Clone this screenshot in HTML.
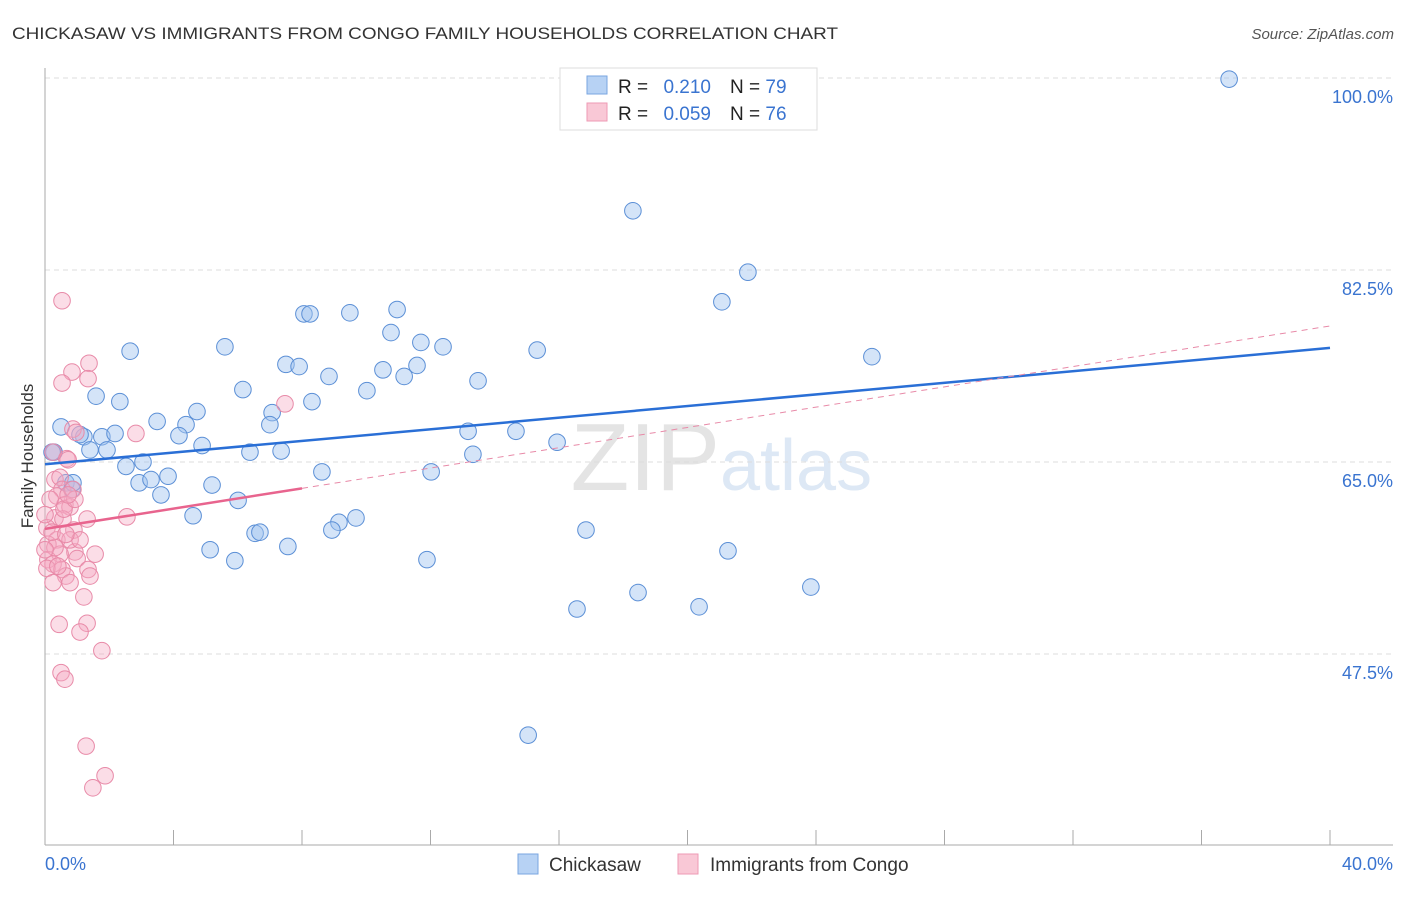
<!DOCTYPE html>
<html><head><meta charset="utf-8"><style>
body{margin:0;background:#fff;font-family:"Liberation Sans",sans-serif;}
svg text{font-family:"Liberation Sans",sans-serif;}
</style></head><body>
<svg width="1406" height="892" xmlns="http://www.w3.org/2000/svg" id="chart">
<text x="12" y="39" font-size="17" fill="#333" textLength="826" lengthAdjust="spacingAndGlyphs">CHICKASAW VS IMMIGRANTS FROM CONGO FAMILY HOUSEHOLDS CORRELATION CHART</text>
<text x="1394" y="39" font-size="15" fill="#555" font-style="italic" text-anchor="end">Source: ZipAtlas.com</text>
<text x="720" y="490" font-size="96" fill="#e4e4e4" text-anchor="end" font-family="Liberation Serif">ZIP</text>
<text x="720" y="490" font-size="72" fill="#dde8f5">atlas</text>
<g id="grid"></g>
<line x1="45" y1="68" x2="45" y2="845" stroke="#aaa"/>
<line x1="45" y1="845" x2="1393" y2="845" stroke="#aaa"/>
<g id="ticks"></g>
<text x="33" y="456" font-size="17" fill="#333" text-anchor="middle" transform="rotate(-90 33 456)">Family Households</text>
<text x="45" y="870" font-size="18" fill="#3a74d0">0.0%</text>
<text x="1393" y="870" font-size="18" fill="#3a74d0" text-anchor="end">40.0%</text>
<g id="points"></g>
<g id="lines"></g>
<g>
<rect x="560" y="68" width="257" height="62" fill="#fff" stroke="#ddd"/>
<rect x="587" y="76" width="20" height="18" fill="#b7d2f4" stroke="#7aa6e0"/>
<rect x="587" y="103" width="20" height="18" fill="#f9c8d6" stroke="#ee9ab4"/>
<text x="618" y="93" font-size="19" fill="#222">R =</text>
<text x="711" y="93" font-size="19" fill="#3a74d0" text-anchor="end">0.210</text>
<text x="730" y="93" font-size="19" fill="#222">N = <tspan fill="#3a74d0">79</tspan></text>
<text x="618" y="120" font-size="19" fill="#222">R =</text>
<text x="711" y="120" font-size="19" fill="#3a74d0" text-anchor="end">0.059</text>
<text x="730" y="120" font-size="19" fill="#222">N = <tspan fill="#3a74d0">76</tspan></text>
</g>
<g>
<rect x="518" y="854" width="20" height="20" fill="#b7d2f4" stroke="#7aa6e0"/>
<text x="549" y="871" font-size="19" fill="#333">Chickasaw</text>
<rect x="678" y="854" width="20" height="20" fill="#f9c8d6" stroke="#ee9ab4"/>
<text x="710" y="871" font-size="19" fill="#333">Immigrants from Congo</text>
</g>
</svg>
<script>
const yTicks=[100,82.5,65,47.5];
const yTickLabels=["100.0%","82.5%","65.0%","47.5%"];
const xTicks=[4,8,12,16,20,24,28,32,36,40];
const blueX=[36.86,18.30,21.88,21.07,2.65,5.60,8.06,8.25,9.49,10.96,10.77,11.70,12.39,15.32,25.74,7.50,7.91,8.84,10.52,11.18,11.58,13.48,6.16,10.02,1.59,2.33,4.73,3.49,7.07,4.39,8.31,7.00,0.50,1.21,1.77,2.18,4.17,13.17,14.66,15.94,1.40,1.93,4.89,6.38,7.35,0.28,13.32,2.52,3.05,8.62,12.02,3.83,2.93,3.30,0.65,0.84,5.20,3.61,6.01,4.61,9.68,9.15,8.93,16.84,6.54,6.69,5.14,7.56,21.26,5.91,11.89,16.56,18.46,20.36,23.84,15.04,1.09,0.87,0.22];
const blueY=[99.9,87.9,82.3,79.6,75.1,75.5,78.5,78.5,78.6,78.9,76.8,75.9,75.5,75.2,74.6,73.9,73.7,72.8,73.4,72.8,73.8,72.4,71.6,71.5,71.0,70.5,69.6,68.7,69.5,68.4,70.5,68.4,68.2,67.3,67.3,67.6,67.4,67.8,67.8,66.8,66.1,66.1,66.5,65.9,66.0,65.9,65.7,64.6,65.0,64.1,64.1,63.7,63.1,63.4,63.1,62.5,62.9,62.0,61.5,60.1,59.9,59.5,58.8,58.8,58.5,58.6,57.0,57.3,56.9,56.0,56.1,51.6,53.1,51.8,53.6,40.1,67.5,63.1,65.9];
const pinkX=[0.53,1.37,0.84,1.34,0.53,0.87,0.96,2.83,7.47,2.55,0.25,0.68,0.72,0.31,0.47,0.53,0.87,0.37,0.62,0.16,0.78,0.31,0.56,1.31,0.90,0.06,0.37,0.09,0.93,1.56,0.47,0.09,1.00,0.25,0.06,0.53,1.34,0.65,1.40,0.78,0.25,1.21,0.44,1.31,1.09,1.77,0.50,0.62,1.28,1.87,1.49,0.59,0.31,0.78,0.22,1.09,0.40,0.93,0.72,0.00,0.00,0.65];
const pinkY=[79.7,74.0,73.2,72.6,72.2,68.0,67.7,67.6,70.3,60.0,65.9,65.3,65.2,63.4,63.6,62.5,62.5,61.9,61.1,61.6,60.9,59.9,59.8,59.8,58.8,59.0,57.9,57.5,56.8,56.6,56.6,56.1,56.2,55.7,55.3,55.2,55.2,54.6,54.6,54.0,54.0,52.7,50.2,50.3,49.5,47.8,45.8,45.2,39.1,36.4,35.3,60.7,57.2,57.9,58.6,57.9,55.5,61.6,62.0,60.2,57.0,58.4];
const blueTrend=[64.8,75.4];
const pinkTrend=[58.9,77.4];
const pinkSolidEnd=8;
const NS="http://www.w3.org/2000/svg";
const sx=v=>45+v*32.125;
const sy=v=>462-(v-65)*10.97;
function mk(tag,attrs,parent){const e=document.createElementNS(NS,tag);for(const k in attrs)e.setAttribute(k,attrs[k]);document.getElementById(parent).appendChild(e);return e;}
yTicks.forEach((t,i)=>{
 const l=mk('line',{x1:45,x2:1393,y1:sy(t),y2:sy(t),stroke:'#ddd','stroke-dasharray':'5,4'},'grid');
 
 
 const tx=mk('text',{x:1393,y:sy(t)+25,'font-size':18,fill:'#3a74d0','text-anchor':'end'},'grid');
 tx.textContent=yTickLabels[i];
 
 
});
xTicks.forEach(t=>{
 const l=mk('line',{x1:sx(t),x2:sx(t),y1:830,y2:845,stroke:'#aaa'},'ticks');
 
 
});
blueX.forEach((x,i)=>{
 const c=mk('circle',{cx:sx(x),cy:sy(blueY[i]),r:8.3,fill:'rgba(160,196,240,0.45)',stroke:'#5b8fd6','stroke-width':1},'points');
 
 
});
pinkX.forEach((x,i)=>{
 const c=mk('circle',{cx:sx(x),cy:sy(pinkY[i]),r:8.3,fill:'rgba(245,170,195,0.4)',stroke:'#e88aa8','stroke-width':1},'points');
 
 
});
const bl=mk('line',{x1:sx(0),y1:sy(blueTrend[0]),x2:sx(40),y2:sy(blueTrend[1]),stroke:'#2a6fd6','stroke-width':2.5},'lines');


const pm=pinkTrend[0]+(pinkTrend[1]-pinkTrend[0])*pinkSolidEnd/40;
const pd=mk('line',{x1:sx(pinkSolidEnd),y1:sy(pm),x2:sx(40),y2:sy(pinkTrend[1]),stroke:'#e88aa8','stroke-width':1,'stroke-dasharray':'6,5'},'lines');


const ps=mk('line',{x1:sx(0),y1:sy(pinkTrend[0]),x2:sx(pinkSolidEnd),y2:sy(pm),stroke:'#e8648e','stroke-width':2.5},'lines');


</script>
</body></html>
